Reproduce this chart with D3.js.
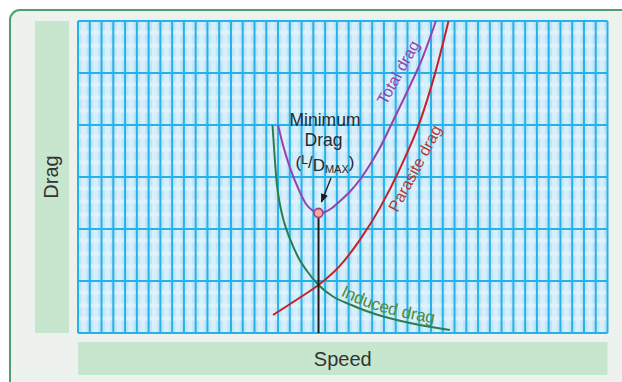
<!DOCTYPE html>
<html><head><meta charset="utf-8">
<script src="https://cdn.jsdelivr.net/npm/d3@7"></script>
<style>html,body{margin:0;padding:0;background:#fff;}svg{display:block;}</style>
</head><body>
<script>
// ---- data (speed in grid columns 0..45, drag in grid rows 0..6) ----
const induced = [
  [16.53,4.000],[16.70,3.423],[16.91,2.846],[17.17,2.462],[17.51,2.135],[18.02,1.808],
  [18.70,1.462],[19.46,1.192],[20.44,0.923],[21.67,0.702],[23.12,0.548],[25.24,0.365],
  [28.21,0.192],[31.61,0.058]
];
const parasite = [
  [16.57,0.346],[18.87,0.683],[20.44,0.923],[22.27,1.296],[23.97,1.796],[25.67,2.411],
  [27.36,3.162],[29.06,4.065],[30.34,4.988],[31.49,6.000]
];
const total = [
  [17.00,4.000],[17.42,3.615],[18.02,3.173],[18.70,2.788],[19.38,2.481],[19.89,2.365],
  [20.44,2.308],[20.99,2.327],[21.59,2.404],[22.27,2.538],[23.12,2.721],[23.97,2.952],
  [24.82,3.240],[25.67,3.567],[26.77,4.077],[27.96,4.635],[29.32,5.317],[30.42,6.000]
];
const minPoint = [20.44, 2.308];
const xCols = 45, yRows = 6, ySub = 4;
const labels = {x:"Speed", y:"Drag", total:"Total drag", parasite:"Parasite drag", induced:"Induced drag",
  ann1:"Minimum", ann2:"Drag"};

const W = 622, H = 382;
const svg = d3.select("body").append("svg").attr("width",W).attr("height",H);
const font = "'Liberation Sans', Arial, sans-serif";

// outer frame
svg.append("rect").attr("x",10).attr("y",10).attr("width",640).attr("height",400)
  .attr("rx",10).attr("fill","#edf2ef").attr("stroke","#4f9e6d").attr("stroke-width",2);

const L = 78, R = 607.5, T = 21, B = 333;
const sx = d3.scaleLinear().domain([0,xCols]).range([L,R]);
const sy = d3.scaleLinear().domain([0,yRows]).range([B,T]);

// label panels
svg.append("rect").attr("x",35).attr("y",T).attr("width",34).attr("height",B-T).attr("fill","#c6e6cd");
svg.append("rect").attr("x",L).attr("y",342).attr("width",R-L).attr("height",33).attr("fill","#c6e6cd");

// plot background
const g = svg.append("g");
g.append("rect").attr("x",L).attr("y",T).attr("width",R-L).attr("height",B-T).attr("fill","#bfe5f7");
g.selectAll(".vs").data(d3.range(xCols)).join("rect")
  .attr("x",d=>sx(d+0.5)-2.5).attr("y",T).attr("width",5).attr("height",B-T).attr("fill","#dbf0fb").attr("opacity",0.85);
g.selectAll(".hs").data(d3.range(1,yRows*ySub).filter(d=>d%ySub!==0)).join("rect")
  .attr("x",L).attr("y",d=>sy(d/ySub)-3.5).attr("width",R-L).attr("height",4).attr("fill","#e2f3fc").attr("opacity",0.8);
g.selectAll(".vl").data(d3.range(xCols+1)).join("line")
  .attr("x1",d=>sx(d)).attr("x2",d=>sx(d)).attr("y1",T).attr("y2",B)
  .attr("stroke","#25b2ea").attr("stroke-width",2);
g.selectAll(".hl").data(d3.range(yRows+1)).join("line")
  .attr("x1",L).attr("x2",R).attr("y1",d=>sy(d)).attr("y2",d=>sy(d))
  .attr("stroke","#25b2ea").attr("stroke-width",2);

// axis labels
svg.append("text").attr("x",sx(xCols/2)).attr("y",366).attr("text-anchor","middle")
  .attr("font-family",font).attr("font-size",20).attr("fill","#333").text(labels.x);
svg.append("text").attr("transform",`translate(58,${sy(yRows/2)}) rotate(-90)`).attr("text-anchor","middle")
  .attr("font-family",font).attr("font-size",20).attr("fill","#333").text(labels.y);

// curves
const line = d3.line().x(d=>sx(d[0])).y(d=>sy(d[1])).curve(d3.curveMonotoneX);
svg.append("path").attr("d",line(induced)).attr("fill","none").attr("stroke","#2e7d4f").attr("stroke-width",2);
svg.append("path").attr("d",line(parasite)).attr("fill","none").attr("stroke","#c8202a").attr("stroke-width",2);
svg.append("path").attr("d",line(total)).attr("fill","none").attr("stroke","#9a3fae").attr("stroke-width",2);

// vertical min line and dot
svg.append("line").attr("x1",sx(minPoint[0])).attr("x2",sx(minPoint[0]))
  .attr("y1",sy(minPoint[1])).attr("y2",B).attr("stroke","#1a1a1a").attr("stroke-width",2);
svg.append("circle").attr("cx",sx(minPoint[0])).attr("cy",sy(minPoint[1])).attr("r",4.5)
  .attr("fill","#f6b07a").attr("stroke","#9a3fae").attr("stroke-width",1.8);

// annotation
const ann = svg.append("g").attr("font-family",font).attr("fill","#2a2a2a");
ann.append("text").attr("x",325).attr("y",126).attr("text-anchor","middle").attr("font-size",17.5).text(labels.ann1);
ann.append("text").attr("x",323.5).attr("y",146).attr("text-anchor","middle").attr("font-size",17.5).text(labels.ann2);
const t3 = ann.append("text").attr("x",325).attr("y",168).attr("text-anchor","middle").attr("font-size",17);
t3.append("tspan").text("(");
t3.append("tspan").attr("font-size",12).attr("dy",-4).text("L");
t3.append("tspan").attr("dy",4).text("/");
t3.append("tspan").attr("dy",3).text("D");
t3.append("tspan").attr("font-size",11).attr("dy",2).text("MAX");
t3.append("tspan").attr("dy",-5).text(")");
svg.append("defs").append("marker").attr("id","ah").attr("viewBox","0 0 10 10").attr("refX",9).attr("refY",5)
  .attr("markerWidth",7).attr("markerHeight",7).attr("orient","auto")
  .append("path").attr("d","M0,1 L10,5 L0,9 Z").attr("fill","#1a1a1a");
svg.append("line").attr("x1",331).attr("y1",178).attr("x2",321.5).attr("y2",202)
  .attr("stroke","#1a1a1a").attr("stroke-width",1.3).attr("marker-end","url(#ah)");

// curve labels
function rotLabel(txt, p, ang, col){
  svg.append("text").attr("transform",`translate(${sx(p[0])},${sy(p[1])}) rotate(${ang})`)
    .attr("text-anchor","middle").attr("font-family",font).attr("font-size",16).attr("fill",col).text(txt);
}
rotLabel(labels.total,[27.62,4.96],-61,"#9a3fae");
rotLabel(labels.parasite,[29.06,3.115],-62,"#b23a36");
const indTail = induced.filter(d=>d[0]>=21.5);
svg.append("path").attr("id","indp").attr("d",line(indTail)).attr("fill","none");
svg.append("text").attr("font-family",font).attr("font-size",17).attr("fill","#4f8a3a").attr("dy",-4)
  .append("textPath").attr("href","#indp").attr("startOffset",6).text(labels.induced);
</script>
</body></html>
